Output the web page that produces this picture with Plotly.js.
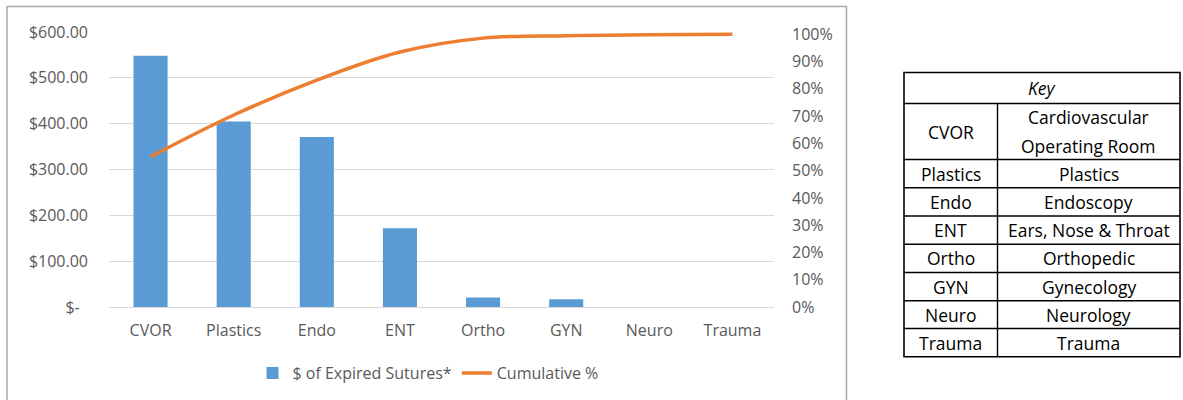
<!DOCTYPE html>
<html>
<head>
<meta charset="utf-8">
<script src="https://cdn.plot.ly/plotly-3.0.1.min.js"></script>
<style>
  html, body { margin: 0; padding: 0; background: #ffffff; }
  #chart { width: 1183px; height: 400px; }
</style>
</head>
<body>
<div id="chart"></div>
<script>
// ---- data ----
var categories = ["CVOR", "Plastics", "Endo", "ENT", "Ortho", "GYN", "Neuro", "Trauma"];
var expiredCost = [548, 405, 371, 172, 21, 17, 0, 0];
var cumulativePct = [0.551, 0.704, 0.832, 0.935, 0.986, 0.995, 0.998, 1.0];
var costTickVals = [0, 100, 200, 300, 400, 500, 600];
var costTickText = ["$-\u00a0\u00a0", "$100.00", "$200.00", "$300.00", "$400.00", "$500.00", "$600.00"];
var pctTickVals = [0, 0.1, 0.2, 0.3, 0.4, 0.5, 0.6, 0.7, 0.8, 0.9, 1.0];
var pctTickText = ["0%", "10%", "20%", "30%", "40%", "50%", "60%", "70%", "80%", "90%", "100%"];
var keyAbbrev = ["CVOR", "Plastics", "Endo", "ENT", "Ortho", "GYN", "Neuro", "Trauma"];
var keyFull = [["Cardiovascular", "Operating Room"], ["Plastics"], ["Endoscopy"], ["Ears, Nose & Throat"], ["Orthopedic"], ["Gynecology"], ["Neurology"], ["Trauma"]];

(function () {
  // ---- layout helpers (pixel -> paper, margins are zero) ----
  var W = 1183, H = 400;
  function px(x) { return x / W; }
  function py(y) { return 1 - y / H; }

  var FONT = "Open Sans, Liberation Sans, sans-serif";
  var GRAY = "#595959";

  var traces = [
    {
      type: "bar",
      name: "$ of Expired Sutures*",
      x: categories,
      y: expiredCost,
      marker: { color: "#5b9bd5" },
      hoverinfo: "skip"
    },
    {
      type: "scatter",
      mode: "lines",
      name: "Cumulative %",
      x: categories,
      y: cumulativePct,
      yaxis: "y2",
      line: { color: "#ed7d31", width: 3.5, shape: "spline", smoothing: 1 },
      hoverinfo: "skip"
    }
  ];

  // table geometry
  var tLeft = 904, tMid = 997.5, tRight = 1180;
  var rowLines = [72.5, 103.5, 159.5, 187.7, 216, 244.3, 272.5, 300.7, 328.5, 356.7];

  var shapes = [];
  // chart outer border
  shapes.push({ type: "rect", xref: "paper", yref: "paper",
    x0: px(7), x1: px(846.5), y0: py(410), y1: py(6.5),
    line: { color: "#a6a6a6", width: 1.5 }, fillcolor: "rgba(0,0,0,0)" });
  // table outer border
  shapes.push({ type: "rect", xref: "paper", yref: "paper",
    x0: px(tLeft), x1: px(tRight), y0: py(rowLines[rowLines.length - 1]), y1: py(rowLines[0]),
    line: { color: "#000000", width: 1.6 }, fillcolor: "rgba(0,0,0,0)" });
  // horizontal row lines
  for (var i = 1; i < rowLines.length - 1; i++) {
    shapes.push({ type: "line", xref: "paper", yref: "paper",
      x0: px(tLeft), x1: px(tRight), y0: py(rowLines[i]), y1: py(rowLines[i]),
      line: { color: "#000000", width: 1.4 } });
  }
  // column divider (below the Key header)
  shapes.push({ type: "line", xref: "paper", yref: "paper",
    x0: px(tMid), x1: px(tMid), y0: py(rowLines[1]), y1: py(rowLines[rowLines.length - 1]),
    line: { color: "#000000", width: 1.4 } });

  var annotations = [];
  function tableText(text, x, y) {
    annotations.push({ xref: "paper", yref: "paper", x: px(x), y: py(y),
      xanchor: "center", yanchor: "middle", showarrow: false, text: text,
      font: { family: FONT, size: 17.5, color: "#000000" } });
  }
  tableText("<i>Key</i>", (tLeft + tRight) / 2, (rowLines[0] + rowLines[1]) / 2);
  var lc = (tLeft + tMid) / 2, rc = (tMid + tRight) / 2;
  for (var r = 0; r < keyAbbrev.length; r++) {
    var rTop = rowLines[r + 1], rBot = rowLines[r + 2], rMid = (rTop + rBot) / 2;
    tableText(keyAbbrev[r], lc, rMid);
    var full = keyFull[r];
    if (full.length === 1) {
      tableText(full[0], rc, rMid);
    } else {
      tableText(full[0], rc, rMid - 14);
      tableText(full[1], rc, rMid + 14);
    }
  }

  var layout = {
    width: W, height: H,
    margin: { l: 0, r: 0, t: 0, b: 0, pad: 0 },
    paper_bgcolor: "#ffffff", plot_bgcolor: "#ffffff",
    font: { family: FONT, size: 16, color: GRAY },
    bargap: 0.59,
    showlegend: true,
    legend: { orientation: "h", x: px(428), y: py(373), xanchor: "center", yanchor: "middle",
      font: { family: FONT, size: 16, color: GRAY }, bgcolor: "rgba(0,0,0,0)" },
    xaxis: {
      domain: [px(109), px(774)],
      type: "category",
      showgrid: false, zeroline: false,
      showline: true, linecolor: "#d9d9d9", linewidth: 1,
      ticks: "", ticklabelstandoff: 9,
      tickfont: { family: FONT, size: 16, color: GRAY },
      fixedrange: true
    },
    yaxis: {
      domain: [py(307), py(32)],
      range: [0, 600],
      tickvals: costTickVals, ticktext: costTickText,
      showgrid: true, gridcolor: "#d9d9d9", gridwidth: 1,
      zeroline: false, showline: false, ticks: "", ticklabelstandoff: 20,
      tickfont: { family: FONT, size: 16, color: GRAY },
      fixedrange: true
    },
    yaxis2: {
      overlaying: "y", side: "right",
      range: [0, 275 / 272.7],
      tickvals: pctTickVals, ticktext: pctTickText,
      showgrid: false, zeroline: false, showline: false, ticks: "", ticklabelstandoff: 17,
      tickfont: { family: FONT, size: 16, color: GRAY },
      fixedrange: true
    },
    shapes: shapes,
    annotations: annotations
  };

  Plotly.newPlot("chart", traces, layout, { staticPlot: true, displayModeBar: false });
})();
</script>
</body>
</html>
